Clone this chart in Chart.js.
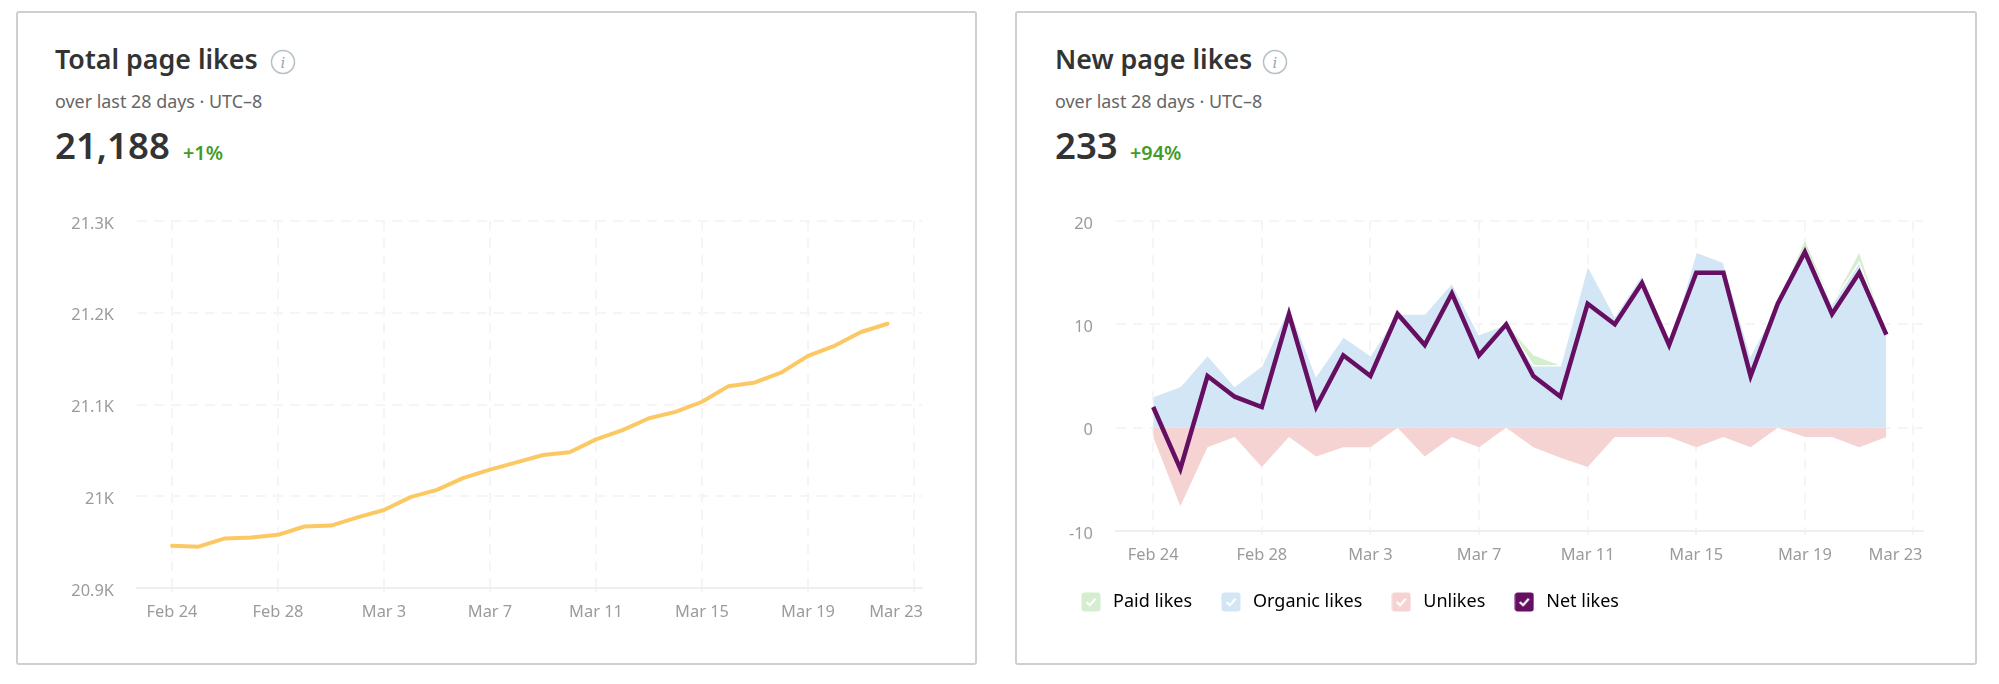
<!DOCTYPE html>
<html><head><meta charset="utf-8">
<style>
html,body{margin:0;padding:0;background:#fff;width:1999px;height:684px;overflow:hidden;font-family:"Noto Sans",sans-serif;color:#333}
.card{position:absolute;top:11px;height:654px;box-sizing:border-box;border:2px solid #cfcfcf;border-radius:3px;background:#fff}
.t{position:absolute;white-space:nowrap;line-height:1}
.title{top:46px;font-size:26.8px;font-weight:600;color:#333}
.sub{top:93px;font-size:17.9px;color:#666}
.val{top:127px;font-size:36.6px;font-weight:600;color:#333}
.delta{top:143px;font-size:19.8px;font-weight:600;color:#3f9c2a}
canvas{position:absolute}
svg{position:absolute}
</style></head><body>
<div class="card" style="left:16px;width:961px"></div>
<div class="card" style="left:1015px;width:962px"></div>

<div class="t title" style="left:55px">Total page likes</div>
<svg style="left:270px;top:49px" width="26" height="26"><circle cx="13" cy="13" r="11.5" fill="none" stroke="#b4c0c4" stroke-width="1.5"/><text x="13" y="19" text-anchor="middle" font-family="DejaVu Serif" font-style="italic" font-size="15" fill="#9aa6aa">i</text></svg>
<div class="t sub" style="left:55px">over last 28 days · UTC–8</div>
<div class="t val" style="left:55px">21,188</div>
<div class="t delta" style="left:183px">+1%</div>

<div class="t title" style="left:1055px">New page likes</div>
<svg style="left:1262px;top:49px" width="26" height="26"><circle cx="13" cy="13" r="11.5" fill="none" stroke="#b4c0c4" stroke-width="1.5"/><text x="13" y="19" text-anchor="middle" font-family="DejaVu Serif" font-style="italic" font-size="15" fill="#9aa6aa">i</text></svg>
<div class="t sub" style="left:1055px">over last 28 days · UTC–8</div>
<div class="t val" style="left:1055px">233</div>
<div class="t delta" style="left:1130px">+94%</div>

<canvas id="c1" width="870" height="460" style="left:60px;top:200px;width:870px;height:460px"></canvas>
<canvas id="c2" width="880" height="460" style="left:1052px;top:200px;width:880px;height:460px"></canvas>

<script src="https://cdn.jsdelivr.net/npm/chart.js@4"></script>
<script>
const tickPositions=[0,4,8,12,16,20,24,28];
const tickLabels=['Feb 24','Feb 28','Mar 3','Mar 7','Mar 11','Mar 15','Mar 19','Mar 23'];
const totalLikes=[20946,20945,20954,20955,20958,20967,20968,20977,20985,20999,21007,21020,21029,21037,21045,21048,21062,21072,21085,21092,21103,21120,21124,21135,21153,21164,21179,21188];
const paidLikes=[0,0,0,0,0,0,0,0,0,0,0,0,0,0,1,0,0,0,0,0,0,0,0,0,0.9,0,0.9,0];
const organicLikes=[3,4,7,4,6,11.7,5,8.8,7,11,11,14,9,10,6,6,15.7,10.8,14.8,8,17,16,7,12,17.2,12,16,9];
const unlikes=[-0.9,-7.6,-1.9,-0.9,-3.8,-0.9,-2.8,-1.9,-1.9,-0.02,-2.8,-0.9,-1.9,-0.02,-1.9,-2.9,-3.8,-0.9,-0.9,-0.9,-1.9,-0.9,-1.9,-0.02,-0.9,-0.9,-1.9,-0.9];
const netLikes=[2,-4,5,3,2,11,2,7,5,11,8,13,7,10,5,3,12,10,14,8,15,15,5,12,17,11,15,9];
const legendOrder=[1,0,2,3];

const FONT='"Noto Sans",sans-serif';
const GRID='#f5f5f5', BASE='#efefef', TICK='#9b9b9b';
const pts=a=>a.map((y,x)=>({x,y}));
const DASH=[10,7];

function xScale(min,max,h){return{
  type:'linear',min,max,
  afterFit(s){s.height=h;s.paddingLeft=0;s.paddingRight=0;},
  afterBuildTicks(s){s.ticks=tickPositions.map(value=>({value}));},
  grid:{color:GRID,lineWidth:2,tickLength:4,drawTicks:true,tickColor:GRID},
  border:{display:true,color:BASE,width:2,dash:DASH},
  ticks:{autoSkip:false,maxRotation:0,minRotation:0,padding:10,color:TICK,font:{family:FONT,size:16.4},
    callback:v=>tickLabels[tickPositions.indexOf(v)]}
};}
function yScale(min,max,step,w,fmt){return{
  min,max,stacked:true,
  afterFit(s){s.width=w;s.paddingTop=0;s.paddingBottom=0;},
  grid:{color:c=>c.tick.value===min?BASE:GRID,lineWidth:2,drawTicks:false},
  border:{display:false,dash:c=>c.tick&&c.tick.value===min?[]:DASH},
  ticks:{stepSize:step,padding:23,color:TICK,font:{family:FONT,size:16.4},callback:fmt}
};}
const nudge={id:'nudge',beforeDraw(ch){
  const xi=ch.scales.x.getLabelItems(); const l=xi[xi.length-1];
  if(!l.options._moved){l.options.translation=[l.options.translation[0]-18,l.options.translation[1]];l.options._moved=true;}
  for(const it of ch.scales.y.getLabelItems()){ if(!it.options._moved){it.options.translation=[it.options.translation[0],it.options.translation[1]+3];it.options._moved=true;} }
}};

new Chart(document.getElementById('c1'),{
  type:'line',
  plugins:[nudge],
  data:{datasets:[{label:'Total page likes',data:pts(totalLikes),borderColor:'#fbc863',borderWidth:4,pointRadius:0,tension:0,fill:false,borderCapStyle:'round',borderJoinStyle:'round'}]},
  options:{responsive:false,animation:false,
    layout:{padding:{top:21,right:8,bottom:0,left:0}},
    plugins:{legend:{display:false},tooltip:{enabled:false}},
    scales:{x:xScale(-1.32,28.3,72),y:yScale(20900,21300,100,77,v=>(v/1000)+'K')}}
});

function checkBox(color){
  const c=document.createElement('canvas');c.width=20;c.height=20;
  const g=c.getContext('2d');g.fillStyle=color;g.beginPath();g.roundRect(0.5,0.5,19,19,3);g.fill();
  g.strokeStyle='#fff';g.lineWidth=2.2;g.beginPath();g.moveTo(5.5,10);g.lineTo(8.8,13.2);g.lineTo(14.5,6.8);g.stroke();
  return c;
}
const COL={paid:'#d6eed0',org:'#d3e6f6',un:'#f6d3d3',net:'#660f62'};
new Chart(document.getElementById('c2'),{
  type:'line',
  plugins:[nudge],
  data:{datasets:[
    {label:'Organic likes',data:pts(organicLikes),stack:'likes',order:0,backgroundColor:COL.org,borderColor:'#ffffff',borderWidth:1.5,pointRadius:0,tension:0,fill:'origin',_box:checkBox(COL.org)},
    {label:'Paid likes',data:pts(paidLikes),stack:'likes',order:1,backgroundColor:COL.paid,borderWidth:0,pointRadius:0,tension:0,fill:'-1',_box:checkBox(COL.paid)},
    {label:'Unlikes',data:pts(unlikes),stack:'likes',order:2,backgroundColor:COL.un,borderWidth:0,pointRadius:0,tension:0,fill:'origin',_box:checkBox(COL.un)},
    {label:'Net likes',data:pts(netLikes),stack:'net',order:-1,borderColor:COL.net,backgroundColor:COL.net,borderWidth:4.5,pointRadius:0,tension:0,fill:false,borderJoinStyle:'miter',_box:checkBox(COL.net)}
  ]},
  options:{responsive:false,animation:false,
    layout:{padding:{top:21,right:9,bottom:39,left:0}},
    plugins:{tooltip:{enabled:false},
      legend:{display:true,position:'bottom',align:'start',
        labels:{usePointStyle:true,pointStyleWidth:26,padding:26,color:'#4a4a4a',font:{family:FONT,size:18},
          generateLabels(ch){return legendOrder.map(i=>{const d=ch.data.datasets[i];return{text:d.label,pointStyle:d._box,fillStyle:d.backgroundColor,strokeStyle:'transparent',lineWidth:0,datasetIndex:i,hidden:false};});}
        }}},
    scales:{x:xScale(-1.37,28.35,36),y:yScale(-10,20,10,64,v=>String(v))}}
});
</script>
</body></html>
